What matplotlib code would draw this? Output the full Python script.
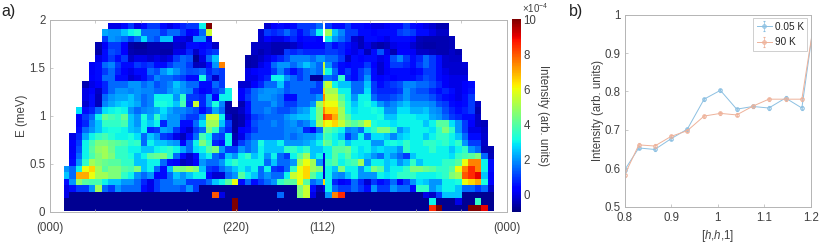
import numpy as np
import matplotlib
matplotlib.use("Agg")
import matplotlib.pyplot as plt

plt.rcParams['font.family'] = ['Liberation Sans', 'DejaVu Sans']
plt.rcParams['mathtext.fontset'] = 'custom'
plt.rcParams['mathtext.rm'] = 'Liberation Sans'
plt.rcParams['mathtext.it'] = 'Liberation Sans:italic'
N = float('nan')
D = -0.8


def row(pad, a, gap=None, b=None, mid=N, right=()):
    left = [N] * pad + list(a)
    if gap is not None:
        left += [N] * gap + list(b)
    left += [N] * (40 - len(left))
    r = list(right)
    r += [N] * (26 - len(r))
    return left[:40] + [mid] + r[:26]


# Intensity map, top row (E near 2) first
k00 = row(7, [0,0,.5,1,0,.5,1,1,.5,0,.5,.8,1,1,3,10], 8, [-.2,.3,.5,.2,.5,1,1,1,1.5], N,
          [1,.5,.5,1,.5,.5,.3,0,0,.2,.5,.5,1,.5,.3,0,-.2,-.5,-.5])
k01 = row(6, [2.2,2,2,2.5,3,3.3,1.5,1.5,1.5,1,1.5,1.5,1,.3,.5,1.5,5.5], 7, [-.2,1,.8,1,1.5,1,.5,1,1.5,3], N,
          [5,2.5,1.8,1,1,.5,.5,.3,.5,.5,.5,1,1.2,1,.5,.5,0,-.3,-.3])
k02 = row(6, [1,2,1.8,1.5,1,1.5,2.8,1.5,1.2,2.5,2.5,0,0,-.2,2,2,0], 7, [-.2,.3,0,0,.5,.8,.3,.5,.5,.3], N,
          [3,2,1.5,1,-.2,-.4,.5,.5,.3,0,.5,.5,.5,.3,-.4,-.5,-.5,-.5,-.5,-.4])
k03 = row(5, [-.5,.2,1,1,.3,-.6,-.7,-.7,-.5,-.5,-.5,-.5,-.2,-.3,.5,.5,.3,.5,-.3], 5, [-.3,-.3,-.3,-.5,-.5,-.5,-.3,0,.3,.3,.3], .3,
          [1,.5,.8,.5,0,-.4,0,-.4,-.6,-.4,0,.2,.2,-.2,-.5,-.6,-.6,-.5,-.5,-.4])
k04 = row(5, [-.6,.5,1.2,1,.3,-.5,-.6,-.6,-.5,-.5,-.6,-.6,0,0,.8,-.3,.5,.8,1], 5, [-.3,-.5,-.3,-.5,-.5,1,.8,1,.8,.8,.8], .8,
          [1,1,.8,.3,0,.5,-.4,.5,1.3,0,-.5,.3,.3,.2,-.3,-.3,-.4,-.5,-.5,-.3,-.5])
k05 = row(5, [0,.5,1,.5,1,-.3,0,0,-.2,0,-.2,0,1,1.5,1.3,-.8,0,1.5,2.5], 4, [-.6,-.5,-.3,0,.5,.8,1.2,1.8,1.8,1.8,1.5,2], 2,
          [1.5,1.5,1,-.3,.5,.3,.5,.5,0,.3,1.2,1.8,1,.5,.8,1.5,1,.5,-.2,-.3,-.3])
k06 = row(4, [.2,.5,1.5,1.8,1,.5,.5,1,.8,1,.5,.5,1,1.5,1.5,1,-.4,-.3,.5,2,7.5], 3, [-.6,-.5,0,.5,1.5,2,2,1.5,2,2.5,2,1.5], 5.5,
          [2,1,.5,.3,.5,.5,1,.3,-.2,.3,1,1,.8,.5,1,1.5,1,.5,-.2,-.2,-.2,-.1])
k07 = row(4, [.2,.5,1,1.5,.8,.3,0,.5,.5,1.5,1.2,2,2.5,2,1.5,1.2,1.3,1.5,.8,1.2,1], 3, [0,.3,.5,.5,1,1.8,1,.5,1,1.5,1.8,1.5], 5,
          [3,1.5,.5,1,.5,1,1.5,.5,-.2,.2,.5,.5,.5,.2,.5,1,1,.5,0,-.2,-.2,-.2])
k08 = row(4, [.3,.5,1.5,1.5,.5,.5,-.2,0,.5,1,1.8,1.5,1.5,1.2,1,.5,.5,3.2,1,-.3,1], 3, [0,0,.5,.8,3,3,2,1.5,1,1.5,-.7,-.7], 1.5,
          [1.5,1.2,3.5,.8,.5,1,2,.5,.3,.5,.3,.5,.5,.5,.8,1.2,1,.5,.2,0,0,0])
k09 = row(3, [-.5,0,.3,.8,1.5,1.5,1.5,2,2,1.5,1.8,1.2,1.5,1.8,2.5,2,1.5,1.5,.5,.5,1.5,1], 2, [-.2,-.2,.3,.8,1.5,1.5,2.5,1.2,1.5,1.5,1.5,1.5,1], 4.5,
          [5.5,3,2.5,2.5,1.5,1.5,2.5,1,.5,.8,1,1.2,1.8,1.8,1.5,1.5,1.2,.8,.2,0,0,.3,.5])
k10 = row(3, [0,.3,-.3,.8,1.5,2,2,1.8,2,1.8,1.8,1.5,1.5,2,2.3,2,1.8,.8,.3,.5,1,1.5,3], 1, [.3,.8,1.5,1.8,2,2,1.8,1.3,1.5,1.5,1.5,1,1], 6.5,
          [5,5,3,3,1.5,1.5,2.8,1,.8,.8,.8,1,2,1.5,1.2,1.2,.8,.5,.8,.5,0,.3,.6])
k11 = row(3, [0,.5,-.4,1.5,2,2.2,2.2,2.5,2,1.5,1.8,3,3,3,2,3.5,1,1,.8,2,.3,3,3], 1, [.3,1,1.5,2,2,1.8,1.5,.5,.5,1.5,1.5,1.5,2], 7.5,
          [5.5,5.5,4,3,2,3,3,1.5,1,1,1.2,1.5,2,1.5,1.5,1.5,1.2,.8,.5,.3,0,.5,1])
k12 = row(3, [-.2,.5,-.4,1.8,2.2,2.5,2.7,2.5,2.2,1.5,1.8,3.2,3.2,3,2.5,3.8,.8,5.5,.8,2,3.2,1.8,-.6], 1, [-.5,.5,1.5,1.5,1.5,2,1.5,1,1,1.5,1.5,2,5], 6.5,
          [6,6,4.5,3.2,2.5,3,3.2,2.8,2,1.5,1.8,2.2,2.5,2,2,2,1.8,1.2,1,.5,.3,.5,1,-.3])
k13 = row(2, [2.8,.5,.8,1.5,2.8,3,3.2,3,2,1.5,1.8,2,2.2,2.8,2.2,1.8,1.8,1.5,1.2,.5,1,2.2,1.5,-.6,-.6,-.3,.5,1.5,1.5,1.8,1.5,1.2,1.2,1.5,2,2.2,3,4.5], mid=7.5,
          right=[6.5,6.5,5,3.2,2.8,3,3,3.2,3,2,2,2.8,2.8,2.3,2.3,2.5,2,1.8,1.2,.8,.5,.7,1,-.5])
k14 = row(2, [.3,1,1.5,3,4.2,3.8,3.5,4.2,2.5,2,3.2,2.2,3.5,2.5,2,2,1.5,1,1,2,5.5,5.5,3,-.3,-.7,-.5,0,1,1.3,1.5,1.5,1.5,2,2.3,2.5,2.5,3,4.5], mid=8.5,
          right=[8,7,5,4,3,3,3,3,3.2,2.5,2.5,3,3,3,2.8,2.8,2.2,2,1.5,1,.8,.5,.5,-.3])
k15 = row(2, [.3,.8,1.8,2.5,3.5,3.5,3.5,3.8,2.5,2,3,2.5,3,.8,2,2,.5,.5,1.5,2.8,5,5,2.5,1,-.7,-.5,.3,1.2,1.5,1.5,1.8,1.5,1.8,2,1.5,1.8,2.5,5], mid=6.5,
          right=[6,6.5,5.5,4.5,4,4.5,5.5,3.2,3,3,2.8,3,3,3,3,2.5,3,4,4,2.8,2,1,.3,-.3,-.4])
k16 = row(2, [.5,1.5,2,2.5,3,3.2,3.2,3,2.5,2.3,3,.8,1,2.2,2,1,.2,-.2,1,1.5,4.5,3.5,1.5,.8,-.7,.3,.5,1,1.5,1.5,1.5,1.5,1.8,1.8,2,.8,.3,1.5], mid=4.5,
          right=[4,3.5,3,1.8,2,1.5,3,3.5,4.5,4.5,3.5,2,2.5,3,3,3,2.8,3.5,4.5,3.5,2,1,0,0,-.3])
k17 = row(1, [0,.8,2.2,3,3.5,3.8,3.3,3,3,3.2,2.8,1.5,2.5,2,1,.8,0,-.4,.5,1.5,3.8,3,1.2,1,3,-.5,0,1,1.5,1.5,1.5,1.5,1.5,1.8,1.5,1.8,2,2,2.5], mid=4,
          right=[3.5,3,2.5,1,1.8,3,1.5,2.8,2.8,2.5,1.8,2.5,2.8,3,3,2.5,3,3.5,3.5,3,2.5,1.5,.5,.5,-.2])
k18 = row(1, [.3,1,3,3.8,4.5,4.5,4.2,4,3.8,3.3,3.5,1.5,3,2.5,2.5,2.2,2,.3,1.5,3,4.5,3.5,.8,.5,3,-.2,1,1.5,2,3.2,2.5,2.5,3,2,2,2,2.2,2.5,3], mid=4.5,
          right=[4,3,3.5,2.5,3,3,3,2,2,3,3.2,3,3.5,3,3,3.5,3.5,3.2,3.5,3,3.5,2,1,1,-.3])
k19 = row(1, [.2,1.2,3,4,4.8,5,4.3,3.5,3.5,3,3,2.5,2.5,3,3.2,3.5,3,2.2,1.5,2.8,3,4,4.5,2,1,1,2,1.5,2,3,2.5,2.5,2.5,3.5,3.5,3,3.5,2.5,2.5], mid=3,
          right=[3,4,4,4.3,3.2,2.8,3,2.5,2.8,2.5,2.5,2,3.5,3,3,3,3.5,3,3,2.5,3,3.5,2,1.5,-.4,-.5])
k20 = row(1, [.3,1.5,3,3.8,4.5,5,4.5,3.5,3.5,3.2,2.5,3,4,4.2,4.5,3.5,1.5,.5,-.2,.5,2.5,3,1.5,1,2.5,2,3,3.5,2.5,3,2,3,1.5,1,3,4,5,2.5,3], mid=0,
          right=[3,4,3.2,4,3,2.8,2.5,2,1.5,2.5,2,1.5,1,2.5,3,3,3,3,3,2.8,3.5,3.8,4,4.5,1.5,-.4])
k21 = row(1, [.5,2,3.5,5,4.5,4.2,4,4,3.5,3.5,2.5,2.5,3,3,1.5,.5,.3,-.4,-.2,.3,2,1.5,1.5,2,3,3.5,3,3,3,3,1.5,2.5,1.5,1.5,2,5,6,5,2], mid=-.2,
          right=[3.5,4,3,3.5,3.8,5,2,3,3,2.5,2.8,2,2.5,3.5,2.5,3,3,3,3.5,3.5,4,6,7.5,7.5,3,.5])
k22 = row(0, [2,1.5,3,6,6.5,5,4,4.5,4.5,4,3.8,4.5,2.5,3,1.5,.5,2.5,4.5,4.5,5,4.5,2.5,1,.8,1.5,2,2.5,3,2.5,3,1.5,3,1,.8,1.5,3.5,6,6.5,5,4.5], mid=-.2,
          right=[3,2.5,4.5,3,3,2,3,4.5,4,2.5,3,3,3.5,4.5,4.5,4.2,4,3.5,3.5,4,6,7.5,8.5,7.5,3,.5])
k23 = row(0, [2.5,1.5,7,7,6,5,5,4.5,4.5,3.5,3,2,1.5,2,.3,.5,1.5,2.5,2,2.5,3,3,.5,-.2,-.2,1.5,2,4,3,2.5,1.5,2,1.5,1.5,3,5.5,6,6.5,4,3], mid=-.3,
          right=[3,2,1.8,2.5,3,2,2,2,3,2.8,3,3.5,3.5,3.5,3,3,3,3.2,3.5,4.5,5,8,8.5,9,2.5,.2])
k24 = row(0, [.5,2,4.8,4,3.8,3.8,3,2.5,2.5,2,2,1.5,.8,0,1,1.5,1.5,2,2,1,1,1,1.5,2.5,3,4,6,.5,1.5,.5,1,1.5,2,3.5,4,4,6,4,1.5,2], mid=6.5,
          right=[3,.8,.2,.5,1.5,.8,-.2,1,.5,.8,1.5,.2,1,2,2.8,2.5,2,2,3,3,3.2,6,6.5,7,3.2,.3])
k25 = row(0, [0,.5,1,1,2,5,1.5,1,2,1.5,1.5,1.5,.5,0,1,1.5,1.5,1.5,1.2,2,1,D,D,D,D,D,D,D,D,D,D,D,D,D,D,D,4.5,5.5,.5,-.5], mid=0,
          right=[3,1.5,1,1,1.5,1,.5,2,1,1,2,1.5,1.5,.5,3.5,3.5,2,2.5,3,3,2.5,1.5,1.5,1,1.5,-.3])
k26 = row(0, [0,D,D,D,D,D,D,D,D,D,D,D,D,D,D,D,D,D,D,D,D,D,D,8,0,D,D,D,D,D,D,D,D,1.5,D,D,4.5,5.5,0,D], mid=D,
          right=[2,7.5,8.5,D,D,D,D,D,D,D,D,D,D,D,D,0,-.3,1,2.5,2.5,2.5,D,D,D,D,D])
k27 = row(0, [D,D,D,D,D,D,D,D,D,D,D,D,D,D,D,D,D,D,D,D,D,D,D,D,D,D,10,D,D,D,D,D,D,D,D,D,D,D,D,D], mid=D,
          right=[D,D,D,D,D,D,D,D,D,D,D,D,D,D,D,D,3,D,D,D,0,D,D,3.5,D,D])
k28 = row(0, [D,D,D,D,D,D,D,D,D,D,D,D,D,D,D,D,D,D,D,D,D,D,D,D,D,D,10,D,D,D,D,D,D,D,D,D,D,D,D,D], mid=D,
          right=[D,D,D,D,D,D,D,D,D,D,D,D,D,D,D,D,8.5,10,D,D,D,D,10,10,9,D])
intensity_rows = [k00,k01,k02,k03,k04,k05,k06,k07,k08,k09,k10,k11,k12,k13,k14,
                  k15,k16,k17,k18,k19,k20,k21,k22,k23,k24,k25,k26,k27,k28]

path_labels = ['(000)', '(220)', '(112)', '(000)']
path_ticks = [0, 0.408, 0.5956, 1]

h_values = [0.8, 0.8307, 0.865, 0.9, 0.935, 0.971, 1.006, 1.041, 1.076, 1.11, 1.146, 1.181, 1.216]
cold_values = [.595, .653, .649, .677, .702, .78, .803, .754, .761, .757, .783, .757, 1.06]
warm_values = [.582, .661, .658, .683, .698, .736, .743, .739, .762, .78, .78, .78, 1.05]
cold_errors = [.004, .004, .004, .004, .004, .004, .004, .004, .004, .004, .004, .004, .004]
warm_errors = [.004, .004, .004, .004, .004, .004, .004, .004, .004, .004, .004, .004, .004]

W, H = 830, 246
GREY = '#b4b4b4'
TXT = '#404040'
FS = 8.3


def box(l, t, r, b):
    return [l / W, 1 - b / H, (r - l) / W, (b - t) / H]


fig = plt.figure(figsize=(W / 100, H / 100), dpi=100)

# ---- panel a
ax = fig.add_axes(box(49.5, 19.5, 507, 212))
Z = np.array(intensity_rows, dtype=float)
to_frac = lambda z: (np.asarray(z, dtype=float) - 148.5) / 1372.5
xz = np.concatenate([[193.0], np.linspace(208, 968, 40), np.linspace(975, 1482, 27)])
x_edges = to_frac(xz)
y_edges = np.linspace(1.967, 0.01, Z.shape[0] + 1)
mesh = ax.pcolormesh(x_edges, y_edges, np.ma.masked_invalid(Z), cmap='jet', vmin=-1, vmax=10,
                     linewidth=0, antialiased=False, rasterized=True)
ax.set_xlim(0, 1)
ax.set_ylim(0, 2)
minor = [t for t in np.arange(0.1, 1.0, 0.1) if min(abs(t - p) for p in path_ticks) > 0.01]
ax.set_xticks(path_ticks)
ax.set_xticklabels(path_labels)
ax.set_xticks(minor, minor=True)
ax.set_yticks([0, 0.5, 1, 1.5, 2])
ax.set_yticklabels(['0', '0.5', '1', '1.5', '2'])
ax.set_ylabel('E (meV)', fontsize=FS, color=TXT, labelpad=1)
ax.tick_params(which='both', direction='in', length=2.5, width=0.5, top=True, right=False,
               color=GREY, labelcolor=TXT, labelsize=FS, pad=3)
ax.tick_params(axis='x', which='both', pad=7)
for s in ax.spines.values():
    s.set_color(GREY)
    s.set_linewidth(0.7)

cax = fig.add_axes(box(512, 19, 520.7, 212))
cb = fig.colorbar(mesh, cax=cax)
cb.set_ticks([0, 2, 4, 6, 8, 10])
cb.set_ticklabels(['0', '2', '4', '6', '8', '10'])
cb.ax.tick_params(length=0, labelsize=FS, labelcolor=TXT, pad=2)
cb.outline.set_visible(False)
cb.set_label('Intensity (arb. units)', rotation=270, fontsize=FS, color=TXT, labelpad=9)
fig.text(522 / W, 1 - 15 / H, '×10$^{-4}$', fontsize=7, color=TXT, ha='left', va='bottom')

fig.text(1 / W, 1 - 19 / H, 'a)', fontsize=11.5, color='#222222', ha='left', va='bottom')
fig.text(569 / W, 1 - 19 / H, 'b)', fontsize=11.5, color='#222222', ha='left', va='bottom')

# ---- panel b
bx = fig.add_axes(box(624.5, 14.7, 810.7, 206.7))
blue = '#8cc0e2'
orange = '#eeb29a'
for vals, errs, col, lab in [(cold_values, cold_errors, blue, '0.05 K'),
                             (warm_values, warm_errors, orange, '90 K')]:
    bx.errorbar(h_values, vals, yerr=errs, color=col, lw=0.7, marker='o', ms=2.5, mfc='none',
                mew=0.8, capsize=1.0, elinewidth=0.5, capthick=0.5, label=lab)
bx.set_xlim(0.8, 1.2)
bx.set_ylim(0.5, 1)
bx.set_xticks([0.8, 0.9, 1, 1.1, 1.2])
bx.set_xticklabels(['0.8', '0.9', '1', '1.1', '1.2'])
bx.set_yticks([0.5, 0.6, 0.7, 0.8, 0.9, 1])
bx.set_yticklabels(['0.5', '0.6', '0.7', '0.8', '0.9', '1'])
bx.set_xlabel('[$\\mathit{h}$,$\\mathit{h}$,1]', fontsize=FS, color=TXT, labelpad=3)
bx.set_ylabel('Intensity (arb. units)', fontsize=FS, color=TXT, labelpad=0)
bx.tick_params(direction='in', length=2, width=0.5, top=False, right=False,
               color=GREY, labelcolor=TXT, labelsize=FS, pad=3)
bx.tick_params(axis='x', pad=4)
for name, s in bx.spines.items():
    s.set_color(GREY)
    s.set_linewidth(0.7)
leg = bx.legend(loc='upper right', bbox_to_anchor=(0.982, 0.981), fontsize=7.2, frameon=True,
                fancybox=False, framealpha=1, edgecolor='#c8c8c8', borderaxespad=0,
                borderpad=0.35, labelspacing=0.55, handlelength=1.5, handletextpad=0.3)
leg.get_frame().set_linewidth(0.6)
for t in leg.get_texts():
    t.set_color('#222222')

fig.savefig('out.png', dpi=100)
